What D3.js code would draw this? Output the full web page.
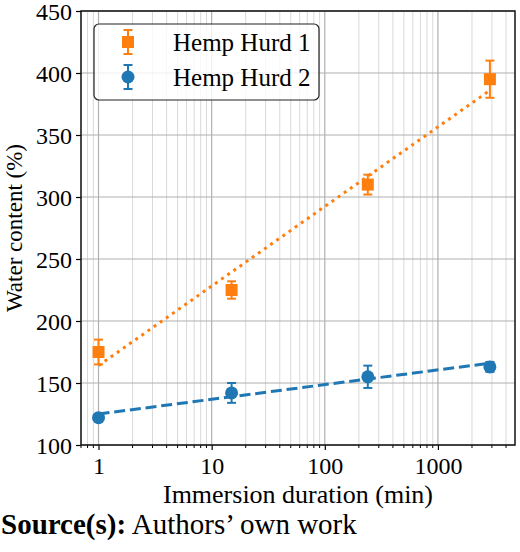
<!DOCTYPE html>
<html>
<head>
<meta charset="utf-8">
<script src="https://cdn.jsdelivr.net/npm/d3@7"></script>
<style>
  body { margin: 0; background: #fff; }
  svg { display: block; font-family: "Liberation Serif", "Times New Roman", serif; }
</style>
</head>
<body>
<svg id="chart"></svg>
<script>
// data
const durations = [1, 15, 240, 2880];
const hurd1 = [175, 225, 310, 395];
const hurd1Err = [10, 7, 8, 15];
const hurd2 = [122, 142, 155, 163];
const hurd2Err = [2, 8, 9, 4];
// fitted trend lines, values at first and last duration
const fit1 = [164, 386];
const fit2 = [125, 166];
const yTicks = [100, 150, 200, 250, 300, 350, 400, 450];
const xTicks = [1, 10, 100, 1000];

const orange = '#ff7f0e';
const blue = '#1f77b4';

let width = 520;
let height = 552;
let margin = {left: 81, right: 5, top: 11, bottom: 107};

let svg = d3.select('#chart').attr('width', width).attr('height', height);

let x = d3.scaleLog()
  .domain([0.7, 4800])
  .range([margin.left, width - margin.right]);

let y = d3.scaleLinear()
  .domain([100, 450])
  .range([height - margin.bottom, margin.top]);

// minor ticks 2..9 of each decade
let minorTicks = [];
for (let e = -1; e <= 3; e++) {
  for (let m = 2; m <= 9; m++) {
    let v = m * Math.pow(10, e);
    if (v >= 0.7 && v <= 4800) minorTicks.push(v);
  }
}

let grid = svg.append('g');

grid.selectAll('.minor')
  .data(minorTicks)
  .enter().append('line')
  .attr('x1', d => x(d)).attr('x2', d => x(d))
  .attr('y1', y(100)).attr('y2', y(450))
  .attr('stroke', '#d9d9d9')
  .attr('stroke-width', 1);

grid.selectAll('.vmajor')
  .data(xTicks)
  .enter().append('line')
  .attr('x1', d => x(d)).attr('x2', d => x(d))
  .attr('y1', y(100)).attr('y2', y(450))
  .attr('stroke', '#b0b0b0')
  .attr('stroke-width', 1.2);

grid.selectAll('.hmajor')
  .data(yTicks)
  .enter().append('line')
  .attr('x1', x(0.7)).attr('x2', x(4800))
  .attr('y1', d => y(d)).attr('y2', d => y(d))
  .attr('stroke', '#b0b0b0')
  .attr('stroke-width', 1.2);

// trend lines
let ends = [durations[0], durations[durations.length - 1]];
let line = d3.line().x(d => x(d[0])).y(d => y(d[1]));

svg.append('path')
  .datum(ends.map((d, i) => [d, fit1[i]]))
  .attr('d', line)
  .attr('fill', 'none')
  .attr('stroke', orange)
  .attr('stroke-width', 3)
  .attr('stroke-dasharray', '3,4.5');

svg.append('path')
  .datum(ends.map((d, i) => [d, fit2[i]]))
  .attr('d', line)
  .attr('fill', 'none')
  .attr('stroke', blue)
  .attr('stroke-width', 3)
  .attr('stroke-dasharray', '11,4.8');

// error bars with a cap at each end
let drawErr = (g, cx, yLo, yHi, color) => {
  g.append('line').attr('x1', cx).attr('x2', cx).attr('y1', yLo).attr('y2', yHi)
    .attr('stroke', color).attr('stroke-width', 2);
  [yLo, yHi].forEach(cy => {
    g.append('line').attr('x1', cx - 4.5).attr('x2', cx + 4.5).attr('y1', cy).attr('y2', cy)
      .attr('stroke', color).attr('stroke-width', 2);
  });
};

let pts = svg.append('g');
durations.forEach((d, i) => {
  drawErr(pts, x(d), y(hurd1[i] - hurd1Err[i]), y(hurd1[i] + hurd1Err[i]), orange);
  pts.append('rect')
    .attr('x', x(d) - 6).attr('y', y(hurd1[i]) - 6)
    .attr('width', 12).attr('height', 12)
    .attr('fill', orange);
});
durations.forEach((d, i) => {
  drawErr(pts, x(d), y(hurd2[i] - hurd2Err[i]), y(hurd2[i] + hurd2Err[i]), blue);
  pts.append('circle')
    .attr('cx', x(d)).attr('cy', y(hurd2[i]))
    .attr('r', 6.5)
    .attr('fill', blue);
});

// axes
let xAxis = svg.append('g')
  .attr('transform', `translate(0,${y(100)})`)
  .call(d3.axisBottom(x).tickValues(xTicks).tickFormat(d3.format('d')).tickSize(5).tickPadding(6));

svg.append('g')
  .attr('transform', `translate(0,${y(100)})`)
  .selectAll('line')
  .data(minorTicks)
  .enter().append('line')
  .attr('x1', d => x(d)).attr('x2', d => x(d))
  .attr('y1', 0).attr('y2', 3)
  .attr('stroke', '#000')
  .attr('stroke-width', 1);

let yAxis = svg.append('g')
  .attr('transform', `translate(${x(0.7)},0)`)
  .call(d3.axisLeft(y).tickValues(yTicks).tickSize(5).tickPadding(4));

[xAxis, yAxis].forEach(a => {
  a.select('.domain').remove();
  a.selectAll('.tick line').attr('stroke', '#000').attr('stroke-width', 1.2);
  a.selectAll('.tick text')
    .attr('fill', '#000')
    .attr('font-size', '24px')
    .attr('font-family', '"Liberation Serif", "Times New Roman", serif');
});
xAxis.selectAll('.tick text').attr('dy', '0.75em');
yAxis.selectAll('.tick text').attr('dy', '0.35em');

// frame
svg.append('rect')
  .attr('x', x(0.7)).attr('y', y(450))
  .attr('width', x(4800) - x(0.7)).attr('height', y(100) - y(450))
  .attr('fill', 'none')
  .attr('stroke', '#111')
  .attr('stroke-width', 1.5);

// axis titles
svg.append('text')
  .attr('x', (x(0.7) + x(4800)) / 2)
  .attr('y', 503)
  .attr('text-anchor', 'middle')
  .attr('font-size', '26px')
  .text('Immersion duration (min)');

svg.append('text')
  .attr('transform', `translate(22,${(y(100) + y(450)) / 2}) rotate(-90)`)
  .attr('text-anchor', 'middle')
  .attr('font-size', '23px')
  .text('Water content (%)');

// source line
let src = svg.append('text')
  .attr('x', 1)
  .attr('y', 534)
  .attr('font-size', '29px');
src.append('tspan').attr('font-weight', 'bold').text('Source(s):');
src.append('tspan').text(' Authors\u2019 own work');

// legend
let legendItems = [
  {label: 'Hemp Hurd 1', color: orange, shape: 'square'},
  {label: 'Hemp Hurd 2', color: blue, shape: 'circle'}
];

let legend = svg.append('g');
legend.append('rect')
  .attr('x', 94).attr('y', 24)
  .attr('width', 225).attr('height', 76)
  .attr('rx', 5)
  .attr('fill', '#fff').attr('fill-opacity', 0.8)
  .attr('stroke', '#222').attr('stroke-width', 1.2);

legendItems.forEach((d, i) => {
  let cy = 42 + i * 35;
  let g = legend.append('g');
  drawErr(g, 128, cy - 12, cy + 12, d.color);
  if (d.shape === 'square') {
    g.append('rect').attr('x', 122).attr('y', cy - 6).attr('width', 12).attr('height', 12).attr('fill', d.color);
  } else {
    g.append('circle').attr('cx', 128).attr('cy', cy).attr('r', 6.5).attr('fill', d.color);
  }
  g.append('text')
    .attr('x', 173).attr('y', cy)
    .attr('dy', '0.35em')
    .attr('font-size', '25px')
    .text(d.label);
});
</script>
</body>
</html>
